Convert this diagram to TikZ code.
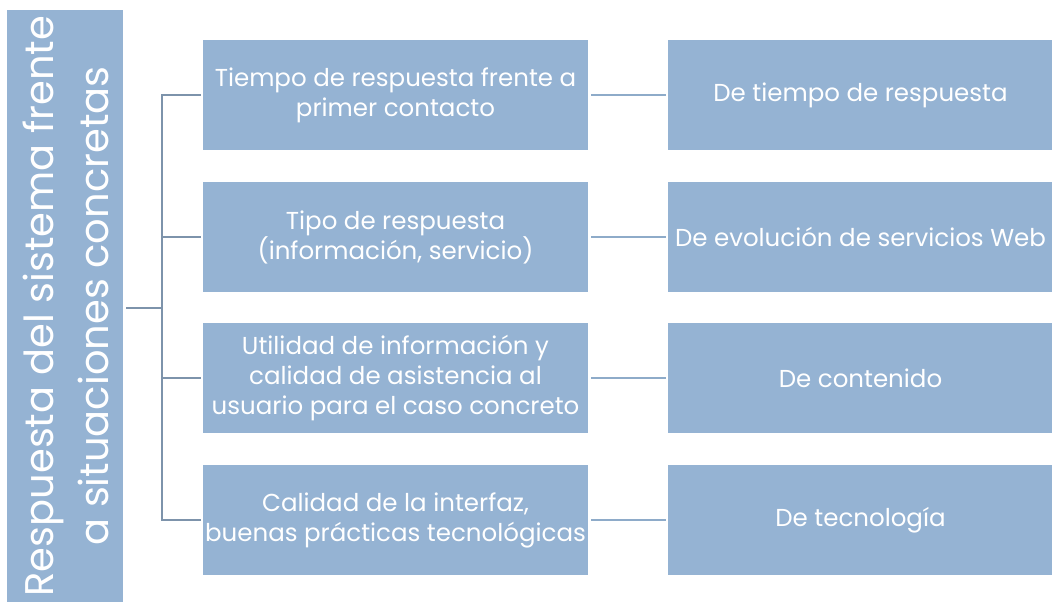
\documentclass[tikz,border=0pt]{standalone}
\usepackage{fontspec}
\setmainfont{Poppins}
\begin{document}
\begin{tikzpicture}[x=1pt,y=1pt,
  box/.style={draw=none,fill=boxblue,text=white,minimum width=385pt,minimum height=110pt,inner sep=2pt,align=center,font=\fontsize{24.5}{30}\selectfont},
  treeline/.style={draw=treecol,line width=2pt},
  linkline/.style={draw=linkcol,line width=2.2pt}]
\definecolor{boxblue}{HTML}{95B3D3}
\definecolor{treecol}{HTML}{7D93AB}
\definecolor{linkcol}{HTML}{8EABC9}
\useasboundingbox (0,0) rectangle (1052,602);
\node[fill=boxblue,minimum width=116pt,minimum height=592pt,inner sep=0pt] (root) at (65,296) {};
\node[text=white,rotate=90,align=center,font=\fontsize{40}{55}\selectfont] (roottext) at (66,296) {Respuesta del sistema frente\\a situaciones concretas};
\node[box] (m1) at (395.5,507) {Tiempo de respuesta frente a\\primer contacto};
\node[box] (m2) at (395.5,365) {Tipo de respuesta\\(información, servicio)};
\node[box] (m3) at (395.5,224) {Utilidad de información y\\calidad de asistencia al\\usuario para el caso concreto};
\node[box] (m4) at (395.5,82) {Calidad de la interfaz,\\buenas prácticas tecnológicas};
\node[box] (r1) at (860.5,507) {De tiempo de respuesta};
\node[box] (r2) at (860.5,365) {De evolución de servicios Web};
\node[box] (r3) at (860.5,224) {De contenido};
\node[box] (r4) at (860.5,82) {De tecnología};
\coordinate (hub) at (162,294);
\draw[treeline] ([xshift=3pt]root.east |- hub) -- (hub);
\draw[treeline] ([xshift=-2pt]m1.west) -| (hub) |- ([xshift=-2pt]m4.west);
\draw[treeline] (hub |- m2.west) -- ([xshift=-2pt]m2.west);
\draw[treeline] (hub |- m3.west) -- ([xshift=-2pt]m3.west);
\foreach \i in {1,2,3,4}{
  \draw[linkline] ([xshift=3pt]m\i.east) -- ([xshift=-2pt]r\i.west);
}
\end{tikzpicture}
\end{document}
